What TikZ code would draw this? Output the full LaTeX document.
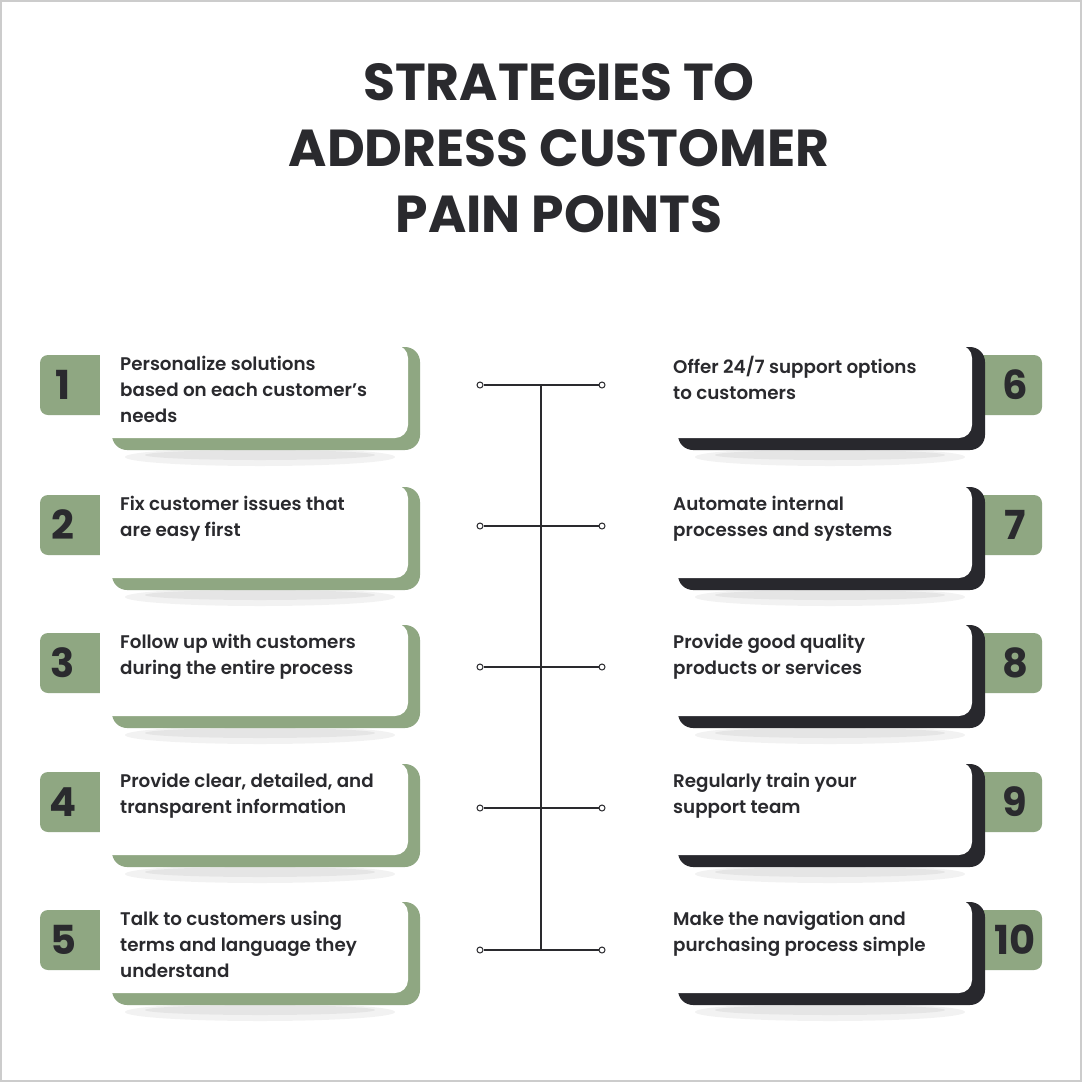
\documentclass[tikz,border=0pt]{standalone}
\usepackage{fontspec}
\setmainfont{Poppins}[UprightFont=*-SemiBold,BoldFont=*-Bold]
\begin{document}
\definecolor{sage}{RGB}{143,167,130}
\definecolor{ink}{RGB}{42,42,46}
\definecolor{darkbk}{RGB}{40,40,45}
\begin{tikzpicture}[x=1pt,y=-1pt,
  num/.style={fill=sage,rounded corners=8pt},
  card/.style={fill=white,rounded corners=13pt},
  txt/.style={anchor=north west,align=left,font=\fontsize{18.3}{26}\selectfont,text=ink,inner sep=0pt},
  numtxt/.style={font=\bfseries\fontsize{40}{40}\selectfont,text=ink},
  dot/.style={circle,draw=ink,fill=white,line width=1pt,inner sep=0pt,minimum size=6pt}]
\fill[white] (0,0) rectangle (1082,1082);
\draw[gray!40,line width=1.5pt] (1,1) rectangle (1081,1081);
\node[font=\bfseries\fontsize{52}{66}\selectfont,text=ink,align=center] (title) at (559,148)
 {STRATEGIES TO\\ADDRESS CUSTOMER\\PAIN POINTS};
% left
\foreach \i/\c/\t in {1/385/{Personalize solutions\\based on each customer’s\\needs},
  2/525/{Fix customer issues that\\are easy first},
  3/663/{Follow up with customers\\during the entire process},
  4/802/{Provide clear, detailed, and\\transparent information},
  5/940/{Talk to customers using\\terms and language they\\understand}}{
  \fill[black,opacity=0.05] (260,\c+72) ellipse (135pt and 9pt);
  \fill[black,opacity=0.05] (260,\c+70) ellipse (115pt and 5pt);
  \fill[num] (40,\c-30) rectangle (110,\c+30);
  \fill[sage,rounded corners=15pt] (112,\c-38) rectangle (420,\c+65);
  \fill[card] (100,\c-40) rectangle (408,\c+53);
  \fill[white] (100,\c-40) rectangle (115,\c+30);
  \node[numtxt] (nl\i) at (63,\c) {\i};
  \node[txt] (tl\i) at (120,\c-29) {\t};
}
% right
\foreach \i/\c/\t in {6/385/{Offer 24/7 support options\\to customers},
  7/525/{Automate internal\\processes and systems},
  8/663/{Provide good quality\\products or services},
  9/802/{Regularly train your\\support team},
  10/940/{Make the navigation and\\purchasing process simple}}{
  \fill[black,opacity=0.05] (830,\c+72) ellipse (135pt and 9pt);
  \fill[black,opacity=0.05] (830,\c+70) ellipse (115pt and 5pt);
  \fill[num] (960,\c-30) rectangle (1042,\c+30);
  \fill[darkbk,rounded corners=15pt] (678,\c-38) rectangle (985,\c+65);
  \fill[card] (660,\c-40) rectangle (972,\c+53);
  \node[numtxt] (nr\i) at (1015,\c) {\i};
  \node[txt] (tr\i) at (673,\c-29) {\t};
}
% connector
\coordinate (top) at (541,385);
\coordinate (bot) at (541,950);
\draw[ink,line width=1.3pt] (top) -- (bot);
\foreach \k/\y in {1/385,2/526,3/667,4/808,5/950}{
  \node[dot] (a\k) at (480,\y) {};
  \node[dot] (b\k) at (602,\y) {};
  \draw[ink,line width=1.3pt] (a\k) -- (b\k);
}
\end{tikzpicture}
\end{document}
